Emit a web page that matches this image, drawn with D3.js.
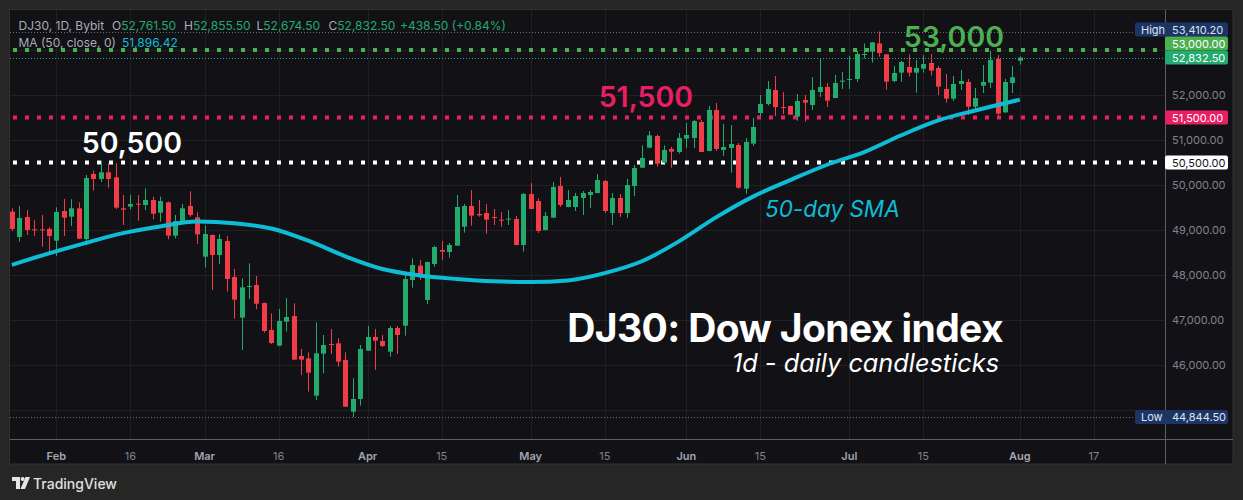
<!DOCTYPE html>
<html>
<head>
<meta charset="utf-8">
<script src="https://cdn.jsdelivr.net/npm/d3@7"></script>
<style>
  html, body { margin: 0; padding: 0; background: #262626; }
  svg { display: block; font-family: Inter, "Noto Sans", sans-serif; }
</style>
</head>
<body>
<div class="graph"></div>
<script>
const width = 1243;
const height = 500;
const plot = {left: 10, right: 1165, top: 10, bottom: 439};
const panelBottom = 464;
const panelRight = 1233;

// daily bars, Jan 23 .. Aug 3 (weekdays)
const opens = [
  49408, 48845, 49289, 49015, 49015, 49023, 48763, 49422, 49297, 49482,
  48800, 50245, 50134, 50282, 50171, 49482, 49519, 49585, 49556, 49667,
  49385, 49615, 48874, 49200, 49534, 49282, 48408, 48889, 48445, 48756,
  47956, 47052, 47741, 47778, 47378, 46778, 46430, 46963, 47089, 46200,
  46148, 45319, 46252, 46467, 46482, 46111, 44963, 45245, 46319, 46623,
  46534, 46296, 46822, 46874, 47889, 48208, 47445, 48245, 48556, 48511,
  48652, 49074, 49533, 49356, 49378, 49289, 49230, 49237, 49245, 48667,
  49800, 49645, 49000, 49274, 49978, 49511, 49511, 49711, 49778, 49822,
  50089, 49378, 49711, 49378, 49978, 50385, 50830, 51089, 50496, 50800,
  50733, 51030, 51045, 51400, 50756, 51667, 50778, 50822, 50889, 49919,
  50919, 51600, 51800, 52111, 51733, 51756, 51519, 51889, 51778, 52067,
  52178, 51933, 52296, 52341, 52356, 52896, 52963, 53148, 52904, 52311,
  52497, 52622, 52497, 52585, 52711, 52600, 52134, 51919, 52245, 52289,
  51741, 52207, 52274, 52800, 51615, 52267, 52761.5
];
const highs = [
  49482, 49534, 49445, 49223, 49334, 49060, 49504, 49689, 49682, 49615,
  50222, 50319, 50541, 50482, 50482, 49778, 49778, 49778, 49926, 49741,
  49741, 49630, 49334, 49578, 49860, 49393, 49104, 48904, 48911, 48867,
  48133, 47926, 48259, 47978, 47385, 47148, 47245, 47489, 47370, 46356,
  46282, 46948, 46667, 46800, 46593, 46282, 45704, 46445, 46867, 46800,
  46667, 46867, 46867, 48074, 48370, 48334, 48295, 48652, 48756, 48711,
  49778, 49578, 49889, 49667, 49578, 49467, 49400, 49444, 49311, 49822,
  50044, 49704, 49400, 50067, 50178, 49889, 49822, 49867, 49889, 50244,
  50111, 49822, 49800, 50133, 50444, 50882, 51200, 51119, 50882, 50845,
  51156, 51378, 51445, 51445, 51756, 51822, 51356, 51334, 50933, 51045,
  51489, 52000, 52311, 52422, 52067, 51760, 52022, 52000, 52400, 52822,
  52267, 52445, 52511, 52867, 52978, 53148, 53175, 53410.2, 52910, 52645,
  52756, 52904, 52778, 52889, 52911, 52645, 52467, 52422, 52556, 52356,
  52156, 52667, 52978, 52889, 52356, 52645, 52855.5
];
const lows = [
  48978, 48741, 48889, 48867, 48630, 48497, 48423, 48867, 49089, 48800,
  48667, 49874, 50067, 49941, 49467, 49111, 49460, 49208, 49445, 49237,
  49185, 48793, 48815, 49148, 49297, 48689, 48167, 47667, 48245, 47630,
  47030, 46334, 47467, 47237, 46719, 46467, 46420, 46741, 46110, 45778,
  45408, 45222, 45815, 46245, 45963, 45070, 44844.5, 45097, 46315, 45889,
  46400, 46185, 46245, 46652, 47719, 47889, 47356, 48185, 48333, 48385,
  48645, 48941, 49096, 49296, 48918, 49111, 49074, 49111, 48660, 48519,
  49460, 48933, 48985, 49270, 49511, 49505, 49422, 49333, 49489, 49815,
  49378, 49111, 49289, 49267, 49756, 50380, 50815, 50407, 50490, 50385,
  50697, 50822, 50822, 50730, 50750, 50756, 50645, 50274, 49919, 49807,
  50867, 51526, 51763, 51533, 51578, 51560, 51430, 51408, 51667, 51956,
  51733, 51930, 52133, 52133, 52289, 52815, 52719, 52852, 52119, 52282,
  52296, 52407, 52052, 52497, 52430, 52000, 51830, 51867, 52111, 51556,
  51689, 52045, 52156, 51556, 51600, 52045, 52674.5
];
const closes = [
  49023, 49267, 49000, 49000, 48993, 48867, 49400, 49274, 49482, 48808,
  50156, 50134, 50282, 50134, 49497, 49452, 49578, 49571, 49667, 49363,
  49645, 48874, 49200, 49482, 49334, 48904, 48911, 48445, 48800, 47911,
  47452, 47726, 47756, 47363, 46756, 46489, 46978, 47067, 46119, 46119,
  45830, 46260, 46445, 46452, 46074, 45074, 45245, 46356, 46623, 46541,
  46423, 46822, 46667, 47911, 48222, 47985, 48289, 48622, 48519, 48667,
  49511, 49533, 49319, 49326, 49230, 49274, 49215, 49252, 48667, 49800,
  49467, 48978, 49311, 49956, 49556, 49667, 49756, 49822, 49844, 50111,
  49422, 49711, 49378, 50000, 50378, 50600, 51104, 50474, 50778, 50741,
  51045, 51111, 51422, 50733, 51667, 50800, 50845, 50911, 49941, 50956,
  51289, 51800, 52133, 51733, 51719, 51563, 51867, 51830, 52111, 52178,
  51874, 52267, 52319, 52356, 52911, 52911, 53170, 52933, 52296, 52489,
  52733, 52497, 52600, 52689, 52541, 52185, 51919, 52245, 52311, 51741,
  51933, 52289, 52778, 51585, 52289, 52394, 52832.5
];

// 50-day SMA, at bar indices
const smaBars = [0, 5, 10, 15, 20, 25, 30, 35, 40, 45, 50, 55, 60, 65,
                 70, 75, 80, 85, 90, 95, 100, 105, 110, 115, 120, 125, 130, 136];
const smaValues = [48226, 48480, 48715, 48930, 49078, 49187, 49150, 49034,
                   48763, 48415, 48134, 47990, 47912, 47860, 47843, 47880,
                   48042, 48305, 48747, 49280, 49742, 50108, 50450, 50730,
                   51105, 51435, 51656, 51896.42];

const tickDates = ['2026-02-02', '2026-02-16', '2026-03-02', '2026-03-16',
                   '2026-04-01', '2026-04-15', '2026-05-01', '2026-05-15',
                   '2026-06-01', '2026-06-15', '2026-07-01', '2026-07-15',
                   '2026-08-03', '2026-08-17'];
const tickLabels = ['Feb', '16', 'Mar', '16', 'Apr', '15', 'May', '15',
                    'Jun', '15', 'Jul', '15', 'Aug', '17'];

const priceTicks = [45000, 46000, 47000, 48000, 49000, 50000, 51000, 52000, 53000];
const levels = [53000, 51500, 50500];
const levelLabels = ['53,000', '51,500', '50,500'];

const up = '#22ab6c';
const down = '#f23c48';
const levelColors = ['#4caf50', '#e91e63', '#ffffff'];
const smaColor = '#0fbcd6';

const fmt = d3.format(',.2f');

const draw_everything = () => {
  d3.select('.graph > *').remove();
  const svg = d3.select('.graph').append('svg')
    .attr('width', width)
    .attr('height', height);

  // weekday calendar for the time axis
  const parse = d3.timeParse('%Y-%m-%d');
  const days = d3.timeDays(new Date(2026, 0, 23), new Date(2026, 8, 1))
    .filter(d => d.getDay() % 6 !== 0);
  const barOf = s => days.findIndex(d => +d === +parse(s));

  const xScale = d3.scaleLinear()
    .domain([0, closes.length - 1])
    .range([11.9, 1019.8]);
  const yScale = d3.scaleLinear()
    .domain([45000, 53000])
    .range([410, 50]);

  svg.append('rect')
    .attr('x', 9.5).attr('y', 9.5)
    .attr('width', panelRight - 9.5).attr('height', panelBottom - 9.5)
    .attr('fill', '#121216')
    .attr('stroke', '#303033');

  svg.append('clipPath').attr('id', 'plotclip')
    .append('rect')
    .attr('x', plot.left).attr('y', plot.top)
    .attr('width', plot.right - plot.left).attr('height', plot.bottom - plot.top);

  // grid
  const grid = svg.append('g').attr('stroke', '#212125').attr('stroke-width', 1);
  grid.selectAll('.hg').data(priceTicks).join('line')
    .attr('x1', plot.left).attr('x2', plot.right)
    .attr('y1', d => Math.round(yScale(d)) + 0.5)
    .attr('y2', d => Math.round(yScale(d)) + 0.5);
  grid.selectAll('.vg').data(tickDates).join('line')
    .attr('x1', d => Math.round(xScale(barOf(d))) + 0.5)
    .attr('x2', d => Math.round(xScale(barOf(d))) + 0.5)
    .attr('y1', plot.top).attr('y2', plot.bottom);

  const chart = svg.append('g').attr('clip-path', 'url(#plotclip)');

  // high / low / last price thin dotted lines
  const maxHigh = d3.max(highs);
  const minLow = d3.min(lows);
  const last = closes.length - 1;
  const thin = [
    {v: maxHigh, c: '#6a6d78'},
    {v: minLow, c: '#6a6d78'},
    {v: closes[last], c: up}
  ];
  chart.selectAll('.thin').data(thin).join('line')
    .attr('x1', plot.left).attr('x2', plot.right)
    .attr('y1', d => Math.round(yScale(d.v)) + 0.5)
    .attr('y2', d => Math.round(yScale(d.v)) + 0.5)
    .attr('stroke', d => d.c)
    .attr('stroke-width', 1)
    .attr('stroke-dasharray', '1 2');

  // horizontal levels
  chart.selectAll('.lvl').data(levels).join('line')
    .attr('x1', plot.left + 3).attr('x2', plot.right)
    .attr('y1', d => yScale(d)).attr('y2', d => yScale(d))
    .attr('stroke', (d, i) => levelColors[i])
    .attr('stroke-width', 4)
    .attr('stroke-dasharray', '4 8');

  // candles
  const bars = d3.range(closes.length);
  const candle = chart.append('g').selectAll('g').data(bars).join('g')
    .attr('fill', i => closes[i] >= opens[i] ? up : down)
    .attr('stroke', i => closes[i] >= opens[i] ? up : down);
  candle.append('line')
    .attr('x1', i => Math.round(xScale(i)) + 0.5)
    .attr('x2', i => Math.round(xScale(i)) + 0.5)
    .attr('y1', i => yScale(highs[i]))
    .attr('y2', i => yScale(lows[i]))
    .attr('stroke-width', 1);
  candle.append('rect')
    .attr('stroke', 'none')
    .attr('x', i => Math.round(xScale(i)) - 2)
    .attr('width', 5)
    .attr('y', i => yScale(Math.max(opens[i], closes[i])))
    .attr('height', i => Math.max(1, Math.abs(yScale(opens[i]) - yScale(closes[i]))));

  // SMA
  const sma = d3.line()
    .x((d, i) => xScale(smaBars[i]))
    .y(d => yScale(d))
    .curve(d3.curveMonotoneX);
  chart.append('path')
    .attr('d', sma(smaValues))
    .attr('fill', 'none')
    .attr('stroke', smaColor)
    .attr('stroke-width', 4)
    .attr('stroke-linejoin', 'round');

  // annotations
  const annX = [1004, 693, 182];
  const annDy = [-3.5, -11, -9.5];
  svg.selectAll('.ann').data(levels).join('text')
    .attr('x', (d, i) => annX[i])
    .attr('y', (d, i) => yScale(d) + annDy[i])
    .attr('text-anchor', 'end')
    .attr('font-size', 28.5)
    .attr('font-weight', 600)
    .attr('fill', (d, i) => levelColors[i])
    .text((d, i) => levelLabels[i]);

  svg.append('text')
    .attr('x', 765).attr('y', 217)
    .attr('font-size', 22.5)
    .attr('font-style', 'italic')
    .attr('fill', smaColor)
    .text('50-day SMA');

  svg.append('text')
    .attr('x', 1003).attr('y', 341.5)
    .attr('text-anchor', 'end')
    .attr('font-size', 39)
    .attr('font-weight', 700)
    .attr('letter-spacing', -0.6)
    .attr('fill', '#ffffff')
    .text('DJ30: Dow Jonex index');
  svg.append('text')
    .attr('x', 999).attr('y', 371.5)
    .attr('text-anchor', 'end')
    .attr('font-size', 25.3)
    .attr('font-style', 'italic')
    .attr('fill', '#ffffff')
    .text('1d - daily candlesticks');

  // axes lines
  svg.append('line')
    .attr('x1', plot.left).attr('x2', panelRight)
    .attr('y1', plot.bottom + 0.5).attr('y2', plot.bottom + 0.5)
    .attr('stroke', '#5e6068');
  svg.append('line')
    .attr('x1', plot.right + 0.5).attr('x2', plot.right + 0.5)
    .attr('y1', plot.top).attr('y2', panelBottom)
    .attr('stroke', '#5e6068');

  // time axis labels
  svg.selectAll('.tl').data(tickDates).join('text')
    .attr('x', d => xScale(barOf(d)))
    .attr('y', 459.5)
    .attr('text-anchor', 'middle')
    .attr('font-size', 11)
    .attr('font-weight', (d, i) => isNaN(+tickLabels[i]) ? 600 : 400)
    .attr('fill', (d, i) => isNaN(+tickLabels[i]) ? '#a3a6af' : '#80838c')
    .text((d, i) => tickLabels[i]);

  // price tags on the axis, pushed apart around the last price
  const tags = [
    {v: maxHigh, bg: '#1b3566', fg: '#e0e3eb', tag: 'High'},
    {v: levels[0], bg: levelColors[0], fg: '#ffffff'},
    {v: closes[last], bg: up, fg: '#ffffff', anchor: true},
    {v: levels[1], bg: levelColors[1], fg: '#ffffff'},
    {v: levels[2], bg: levelColors[2], fg: '#131317'},
    {v: minLow, bg: '#1b3566', fg: '#e0e3eb', tag: 'Low'}
  ];
  tags.forEach(t => t.y = yScale(t.v));
  tags.sort((a, b) => a.y - b.y);
  const tagH = 14;
  const ai = tags.findIndex(t => t.anchor);
  for (let i = ai - 1; i >= 0; i--) tags[i].y = Math.min(tags[i].y, tags[i + 1].y - tagH);
  for (let i = ai + 1; i < tags.length; i++) tags[i].y = Math.max(tags[i].y, tags[i - 1].y + tagH);

  // price axis labels, dropped where a tag sits right on top of them
  const shown = priceTicks.filter(v => !tags.some(t => Math.abs(t.y - yScale(v)) < 7));
  svg.selectAll('.pl').data(shown).join('text')
    .attr('x', 1172)
    .attr('y', d => yScale(d) + 4)
    .attr('font-size', 11)
    .attr('fill', '#80838c')
    .text(d => fmt(d));

  const tg = svg.append('g').selectAll('g').data(tags).join('g')
    .attr('transform', d => `translate(0, ${d.y})`);
  tg.filter(d => d.tag).append('rect')
    .attr('x', 1135).attr('y', -7).attr('width', 34).attr('height', tagH)
    .attr('rx', 2)
    .attr('fill', d => d.bg);
  tg.filter(d => d.tag).append('text')
    .attr('x', 1141).attr('y', 4)
    .attr('font-size', 11)
    .attr('fill', d => d.fg)
    .text(d => d.tag);
  tg.append('rect')
    .attr('x', 1165).attr('y', -7).attr('width', 63).attr('height', tagH)
    .attr('rx', 2)
    .attr('fill', d => d.bg);
  tg.append('text')
    .attr('x', 1172).attr('y', 4)
    .attr('font-size', 11)
    .attr('fill', d => d.fg)
    .text(d => fmt(d.v));

  // legend
  const gray = '#a9acb5';
  const chg = closes[last] - closes[last - 1];
  const legend = svg.append('g').attr('font-size', 12);
  legend.append('text').attr('x', 18.5).attr('y', 30)
    .attr('fill', gray).text('DJ30, 1D, Bybit');
  const ohlc = [['O', opens[last], 112], ['H', highs[last], 184],
                ['L', lows[last], 256.5], ['C', closes[last], 328.5]];
  ohlc.forEach(([k, v, x]) => {
    const t = legend.append('text').attr('x', x).attr('y', 30);
    t.append('tspan').attr('fill', gray).text(k);
    t.append('tspan').attr('fill', up).text(fmt(v));
  });
  legend.append('text').attr('x', 400).attr('y', 30)
    .attr('fill', up)
    .text(`+${fmt(chg)} (+${(chg / closes[last - 1] * 100).toFixed(2)}%)`);
  const ma = legend.append('text').attr('x', 18.5).attr('y', 47);
  ma.append('tspan').attr('fill', gray).text('MA (50, close, 0)');
  ma.append('tspan').attr('x', 122).attr('fill', smaColor).text(fmt(smaValues[smaValues.length - 1]));

  // TradingView mark
  const logo = svg.append('g').attr('fill', '#e6e6e6');
  logo.append('path').attr('d', 'M12 477h8v12h-4v-8h-4z');
  logo.append('circle').attr('cx', 22.6).attr('cy', 479).attr('r', 2);
  logo.append('path').attr('d', 'M25.5 477h4.5l-5 12h-4.5z');
  svg.append('text')
    .attr('x', 33).attr('y', 488.5)
    .attr('font-size', 14)
    .attr('font-weight', 500)
    .attr('fill', '#e0e0e0')
    .text('TradingView');
};

draw_everything();
</script>
</body>
</html>
